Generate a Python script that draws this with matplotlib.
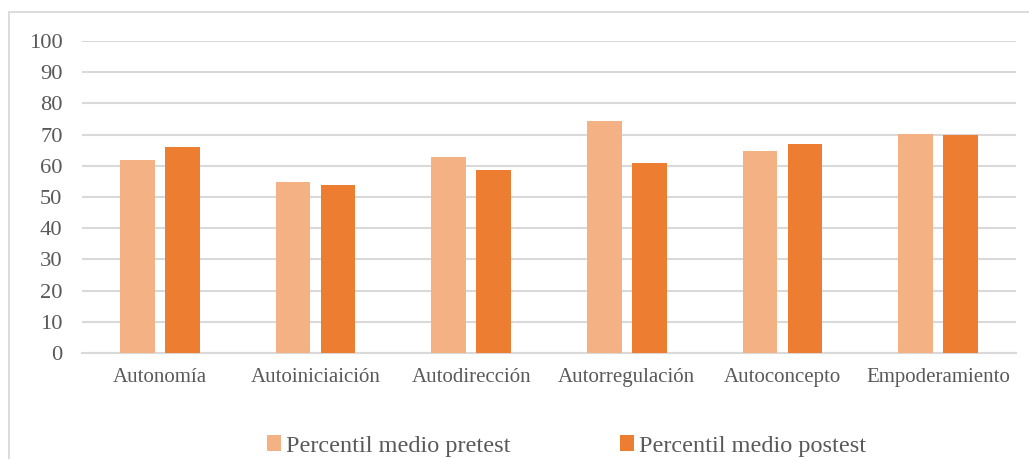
import matplotlib
matplotlib.use("Agg")
import matplotlib.pyplot as plt
import numpy as np
from matplotlib.patches import Rectangle

categories = ["Autonomía", "Autoiniciaición", "Autodirección", "Autorregulación",
              "Autoconcepto", "Empoderamiento"]
pretest = [62.0, 54.8, 62.8, 74.5, 64.9, 70.2]
postest = [65.9, 53.8, 58.6, 61.0, 67.1, 69.8]
series_labels = ["Percentil medio pretest", "Percentil medio postest"]
yticks = [0, 10, 20, 30, 40, 50, 60, 70, 80, 90, 100]

W, H = 1029, 459
plt.rcParams["font.family"] = ["Liberation Serif", "DejaVu Serif"]
text_color = "#595959"
grid_color = "#D9D9D9"

fig = plt.figure(figsize=(W / 100, H / 100), dpi=100)
ax = fig.add_axes([82 / W, (H - 353) / H, (1016 - 82) / W, (353 - 41) / H])

x = np.arange(len(categories))
bw = 0.222
off = 0.145
ax.bar(x - off, pretest, width=bw, color="#F4B183", label=series_labels[0], zorder=3)
ax.bar(x + off, postest, width=bw, color="#ED7D31", label=series_labels[1], zorder=3)

ax.set_xlim(-0.5, len(categories) - 0.5)
ax.set_ylim(0, 100)
ax.set_yticks(yticks)
ax.set_yticklabels([str(v) for v in yticks], fontsize=16.2, color=text_color)
ax.set_xticks(x)
ax.set_xticklabels(categories, fontsize=15, color=text_color)
ax.tick_params(axis="y", length=0, pad=14)
ax.tick_params(axis="x", length=0, pad=11)
ax.yaxis.grid(True, color=grid_color, linewidth=1.5, zorder=0)
ax.set_axisbelow(True)
for s in ["top", "right", "left"]:
    ax.spines[s].set_visible(False)
ax.spines["bottom"].set_color(grid_color)
ax.spines["bottom"].set_linewidth(1.5)

# chart frame
fig.patches.append(Rectangle((8.5 / W, -0.05), 1.2, 1 - 12.5 / H + 0.05,
                             transform=fig.transFigure, fill=False,
                             edgecolor=grid_color, linewidth=1.3, clip_on=False))

leg = fig.legend(loc="center", bbox_to_anchor=(566.5 / W, 1 - 446 / H), ncol=2,
                 frameon=False, fontsize=17.5, handlelength=0.6, handleheight=0.6,
                 handletextpad=0.2, columnspacing=4.5, borderaxespad=0)
for t in leg.get_texts():
    t.set_color(text_color)

fig.savefig("out.png", dpi=100)
